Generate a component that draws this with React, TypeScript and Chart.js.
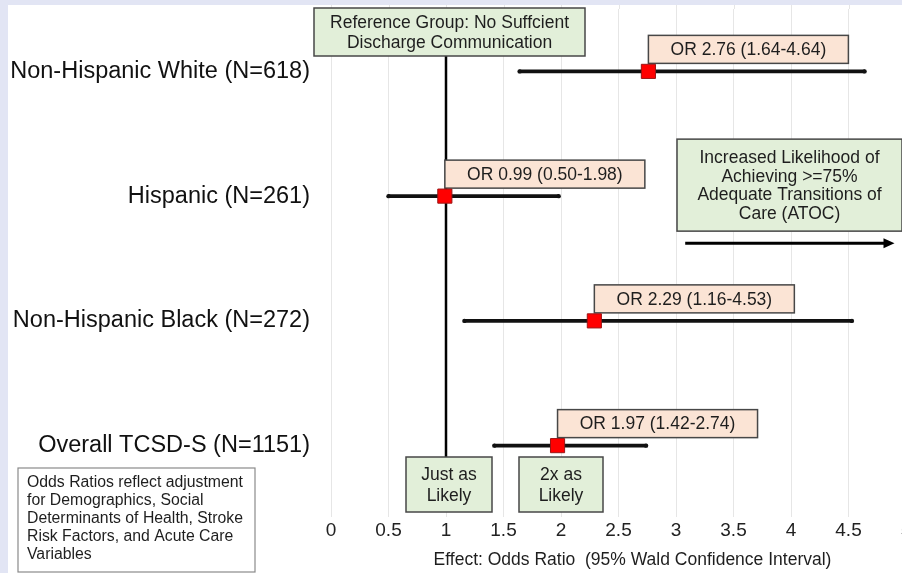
import React, { useEffect, useRef } from "react";
import { Chart, registerables } from "chart.js";

Chart.register(...registerables);

const categories = [
  "Non-Hispanic White (N=618)",
  "Hispanic (N=261)",
  "Non-Hispanic Black (N=272)",
  "Overall TCSD-S (N=1151)",
];
const oddsRatios = [2.76, 0.99, 2.29, 1.97];
const ciLow = [1.64, 0.5, 1.16, 1.42];
const ciHigh = [4.64, 1.98, 4.53, 2.74];
const xMin = 0;
const xMax = 5;
const xStep = 0.5;
const referenceValue = 1;
const referenceLines = ["Reference Group: No Suffcient", "Discharge Communication"];
const likelihoodLines = ["Increased Likelihood of", "Achieving >=75%", "Adequate Transitions of", "Care (ATOC)"];
const justAsLines = ["Just as", "Likely"];
const twiceLines = ["2x as", "Likely"];
const twiceValue = 2;
const noteLines = [
  "Odds Ratios reflect adjustment",
  "for Demographics, Social",
  "Determinants of Health, Stroke",
  "Risk Factors, and Acute Care",
  "Variables",
];
const axisTitle = "Effect: Odds Ratio  (95% Wald Confidence Interval)";

const FONT = '"Liberation Sans", Arial, Helvetica, sans-serif';
const GREEN = "#e2efd9";
const PEACH = "#fbe4d5";
const BORDER = "#474747";
const TEXT = "#1e1e1e";

function drawBox(
  ctx: CanvasRenderingContext2D,
  x: number,
  y: number,
  w: number,
  h: number,
  fill: string,
  lines: string[],
  fontSize: number,
  lineH: number,
  stroke = BORDER,
  lw = 1.5
) {
  ctx.save();
  ctx.fillStyle = fill;
  ctx.fillRect(x, y, w, h);
  ctx.strokeStyle = stroke;
  ctx.lineWidth = lw;
  ctx.strokeRect(x, y, w, h);
  ctx.fillStyle = TEXT;
  ctx.font = `${fontSize}px ${FONT}`;
  ctx.textAlign = "center";
  ctx.textBaseline = "middle";
  const cy = y + h / 2;
  const start = cy - ((lines.length - 1) * lineH) / 2;
  lines.forEach((t, i) => ctx.fillText(t, x + w / 2, start + i * lineH + 1));
  ctx.restore();
}

const annotationPlugin = {
  id: "forestAnnotations",
  beforeDatasetsDraw(chart: any) {
    const { ctx, chartArea, scales } = chart;
    const xs = scales.x;
    const ys = scales.y;
    // extend faint grid lines to the top of the panel
    ctx.save();
    ctx.strokeStyle = "#e6e6e6";
    ctx.lineWidth = 1;
    xs.ticks.forEach((t: any) => {
      const gx = Math.round(xs.getPixelForValue(t.value)) + 0.5;
      ctx.beginPath();
      ctx.moveTo(gx, 0);
      ctx.lineTo(gx, chartArea.top);
      ctx.stroke();
    });
    ctx.restore();

    // reference line
    const rx = xs.getPixelForValue(referenceValue);
    ctx.save();
    ctx.strokeStyle = "#000";
    ctx.lineWidth = 2.5;
    ctx.beginPath();
    ctx.moveTo(rx, chartArea.top);
    ctx.lineTo(rx, chartArea.bottom);
    ctx.stroke();
    ctx.restore();

    // reference group box
    drawBox(ctx, rx - 132, 3, 271, 48, GREEN, referenceLines, 17.5, 20);

    // OR label boxes
    categories.forEach((c, i) => {
      const px = xs.getPixelForValue(oddsRatios[i]);
      const py = ys.getPixelForValue(i);
      const label = `OR ${oddsRatios[i].toFixed(2)} (${ciLow[i].toFixed(2)}-${ciHigh[i].toFixed(2)})`;
      drawBox(ctx, px, py - 36, 200, 28, PEACH, [label], 17.5, 20);
    });

    // increased likelihood box + arrow
    const hy = ys.getPixelForValue(1);
    const bx = xs.getPixelForValue(3) + 1;
    drawBox(ctx, bx, hy - 57, 225, 92, GREEN, likelihoodLines, 17.5, 18.5);
    const ay = hy + 47;
    const ax0 = xs.getPixelForValue(3.08);
    const ax1 = xs.getPixelForValue(4.9);
    ctx.save();
    ctx.strokeStyle = "#000";
    ctx.fillStyle = "#000";
    ctx.lineWidth = 3;
    ctx.beginPath();
    ctx.moveTo(ax0, ay);
    ctx.lineTo(ax1 - 8, ay);
    ctx.stroke();
    ctx.beginPath();
    ctx.moveTo(ax1, ay);
    ctx.lineTo(ax1 - 11, ay - 5);
    ctx.lineTo(ax1 - 11, ay + 5);
    ctx.closePath();
    ctx.fill();
    ctx.restore();

    // bottom small boxes
    const sy = chartArea.bottom - 51;
    drawBox(ctx, rx + 3 - 43, sy, 86, 55, GREEN, justAsLines, 17.5, 21);
    drawBox(ctx, xs.getPixelForValue(twiceValue) - 42, sy, 84, 55, GREEN, twiceLines, 17.5, 21);
  },
  afterDatasetsDraw(chart: any) {
    const { ctx, scales } = chart;
    const xs = scales.x;
    const ys = scales.y;
    ctx.save();
    ctx.fillStyle = "#111";
    categories.forEach((c, i) => {
      const py = ys.getPixelForValue(i);
      [ciLow[i], ciHigh[i]].forEach((v) => {
        ctx.beginPath();
        ctx.arc(xs.getPixelForValue(v), py, 2.2, 0, Math.PI * 2);
        ctx.fill();
      });
    });
    ctx.restore();
  },
  afterDraw(chart: any) {
    const { ctx, chartArea } = chart;
    // axis title
    ctx.save();
    ctx.fillStyle = TEXT;
    ctx.font = `17.5px ${FONT}`;
    ctx.textAlign = "center";
    ctx.textBaseline = "middle";
    ctx.fillText(axisTitle, (chartArea.left + chartArea.right) / 2 + 14, 555);
    ctx.restore();
    // note box
    ctx.save();
    ctx.fillStyle = "#fff";
    ctx.fillRect(10, 463, 237, 104);
    ctx.strokeStyle = "#8a8a8a";
    ctx.lineWidth = 1.2;
    ctx.strokeRect(10, 463, 237, 104);
    ctx.fillStyle = TEXT;
    ctx.font = `15.8px ${FONT}`;
    ctx.textAlign = "left";
    ctx.textBaseline = "middle";
    noteLines.forEach((t, i) => ctx.fillText(t, 19, 478 + i * 18));
    ctx.restore();
  },
};

export default function App() {
  const ref = useRef<HTMLCanvasElement | null>(null);

  useEffect(() => {
    if (!ref.current) return;
    const chart = new Chart(ref.current, {
      type: "bar",
      data: {
        labels: categories,
        datasets: [
          {
            type: "line",
            label: "Odds Ratio",
            data: oddsRatios,
            indexAxis: "y",
            showLine: false,
            pointStyle: "rect",
            pointRadius: 10,
            pointHoverRadius: 10,
            backgroundColor: "#ff0000",
            borderColor: "#9b1414",
            borderWidth: 1,
            order: 0,
          } as any,
          {
            type: "bar",
            label: "95% CI",
            data: ciLow.map((lo, i) => [lo, ciHigh[i]]),
            backgroundColor: "#111",
            borderWidth: 0,
            barThickness: 3,
            order: 1,
          } as any,
        ],
      },
      options: {
        indexAxis: "y",
        animation: false,
        responsive: false,
        events: [],
        layout: { autoPadding: false, padding: { top: 4, right: 22, left: 0, bottom: 0 } },
        plugins: { legend: { display: false }, tooltip: { enabled: false }, title: { display: false } },
        scales: {
          x: {
            type: "linear",
            min: xMin,
            max: xMax,
            border: { display: false },
            grid: { color: "#e6e6e6", lineWidth: 1, drawTicks: true, tickLength: 9, tickColor: "#e6e6e6" },
            ticks: {
              stepSize: xStep,
              padding: 2,
              color: "#222",
              font: { family: FONT, size: 19 },
              maxRotation: 0,
              callback: (v: any) => String(Number(v)),
            },
            afterFit: (s: any) => {
              s.height = 65;
            },
          },
          y: {
            type: "category",
            offset: true,
            border: { display: false },
            grid: { display: false, drawTicks: false },
            ticks: {
              padding: 21,
              color: "#111",
              font: { family: FONT, size: 23.5 },
            },
            afterFit: (s: any) => {
              s.width = 323;
              s.paddingTop = 0;
              s.paddingBottom = 0;
            },
          },
        },
      } as any,
      plugins: [annotationPlugin],
    });
    return () => chart.destroy();
  }, []);

  return (
    <div style={{ position: "fixed", inset: 0, background: "#e2e5f4", overflow: "hidden" }}>
      <div style={{ position: "absolute", left: 8, top: 5, width: 920, height: 568, background: "#fff" }}>
        <canvas ref={ref} width={920} height={568} style={{ display: "block", width: 920, height: 568 }} />
      </div>
    </div>
  );
}
